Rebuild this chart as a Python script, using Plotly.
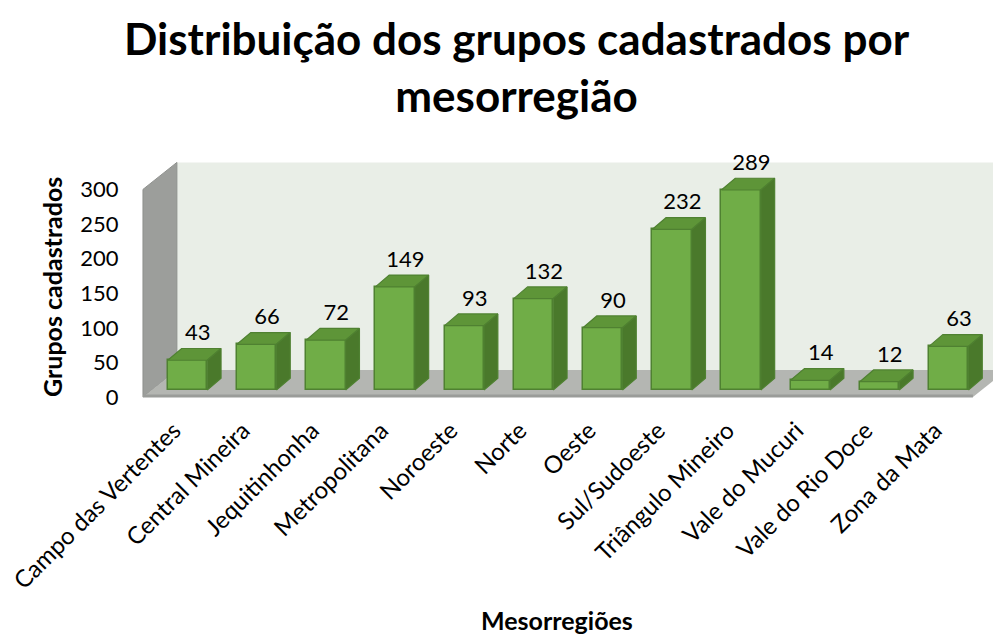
import plotly.graph_objects as go

# ---- data ----
categories = ["Campo das Vertentes", "Central Mineira", "Jequitinhonha", "Metropolitana",
              "Noroeste", "Norte", "Oeste", "Sul/Sudoeste", "Triângulo Mineiro",
              "Vale do Mucuri", "Vale do Rio Doce", "Zona da Mata"]
values = [43, 66, 72, 149, 93, 132, 90, 232, 289, 14, 12, 63]
y_ticks = [0, 50, 100, 150, 200, 250, 300]

title_text = "Distribuição dos grupos cadastrados por<br>mesorregião"
y_title = "Grupos cadastrados"
x_title = "Mesorregiões"

# ---- geometry / style ----
W, H = 993, 637
ML, MR, MT, MB = 140, 0, 150, 237
XR = [-0.686, 11.64]
YR = [-14.45, 346.8]
BAR_W = 0.57
DDX, DDY = 0.20, 17.0          # bar depth (x units, value units)
FDX, FDY = 0.49, 39.0          # full floor depth
FRONT_FRAC = 0.26              # bar plane position inside depth
OFF_X, OFF_Y = -FRONT_FRAC * FDX, -FRONT_FRAC * FDY   # front-plane offset
WALL_X = -0.643
WALL_TOP = max(y_ticks) + OFF_Y
FLOOR_RIGHT = 11.35

C_FRONT = "#70AD47"
C_TOP = "#5E9538"
C_SIDE = "#4A792B"
C_EDGE = "#4F8131"
FONT = "Lato"

n = len(values)
xs = list(range(n))

fig = go.Figure()

# front faces
fig.add_trace(go.Bar(x=xs, y=values, width=BAR_W, marker=dict(color=C_FRONT, line=dict(color=C_EDGE, width=1.5)),
                     hoverinfo="skip", showlegend=False))

# top faces & side faces
tx, ty, sx, sy = [], [], [], []
for i, v in zip(xs, values):
    l, r = i - BAR_W / 2, i + BAR_W / 2
    tx += [l, r, r + DDX, l + DDX, l, None]
    ty += [v, v, v + DDY, v + DDY, v, None]
    sx += [r, r + DDX, r + DDX, r, r, None]
    sy += [0, DDY, v + DDY, v, 0, None]
fig.add_trace(go.Scatter(x=tx, y=ty, fill="toself", fillcolor=C_TOP, mode="lines",
                         line=dict(color=C_EDGE, width=1.2), hoverinfo="skip", showlegend=False))
fig.add_trace(go.Scatter(x=sx, y=sy, fill="toself", fillcolor=C_SIDE, mode="lines",
                         line=dict(color=C_EDGE, width=1.2), hoverinfo="skip", showlegend=False))

# data labels
fig.add_trace(go.Scatter(x=[i + 0.15 for i in xs], y=[v + DDY + 4 for v in values], mode="text",
                         text=[str(v) for v in values], textposition="top center",
                         textfont=dict(family=FONT, size=22, color="#000000"),
                         hoverinfo="skip", showlegend=False, cliponaxis=False))

# walls and floor (chart frame)
fx0, fy0 = WALL_X, OFF_Y
bx0, by0 = WALL_X + FDX, OFF_Y + FDY
shapes = [
    dict(type="path", path=f"M{bx0},{by0} L{XR[1]+1},{by0} L{XR[1]+1},{WALL_TOP+FDY} L{bx0},{WALL_TOP+FDY} Z",
         fillcolor="#E9EEE7", line=dict(width=0), layer="below"),
    dict(type="path", path=f"M{fx0},{fy0} L{bx0},{by0} L{bx0},{WALL_TOP+FDY} L{fx0},{WALL_TOP} Z",
         fillcolor="#9C9E9B", line=dict(color="#8E908D", width=1), layer="below"),
    dict(type="path", path=f"M{fx0},{fy0} L{FLOOR_RIGHT},{fy0} L{FLOOR_RIGHT+FDX},{by0} L{bx0},{by0} Z",
         fillcolor="#B4B6B2", line=dict(width=0), layer="below"),
    dict(type="line", x0=fx0, x1=FLOOR_RIGHT, y0=fy0 + 1.5, y1=fy0 + 1.5,
         line=dict(color="#9A9C99", width=3), layer="below"),
]

def px_x(p):
    return (p - ML) / (W - ML - MR)

def px_y(p):
    return 1 - (p - MT) / (H - MT - MB)

annotations = [
    dict(text=f"<b>{title_text}</b>", xref="paper", yref="paper", x=px_x(517), y=px_y(67),
         xanchor="center", yanchor="middle", showarrow=False,
         font=dict(family=FONT, size=44, color="#000000")),
    dict(text=f"<b>{y_title}</b>", xref="paper", yref="paper", x=px_x(52), y=px_y(287),
         xanchor="center", yanchor="middle", textangle=-90, showarrow=False,
         font=dict(family=FONT, size=25, color="#000000")),
    dict(text=f"<b>{x_title}</b>", xref="paper", yref="paper", x=px_x(557), y=px_y(620),
         xanchor="center", yanchor="middle", showarrow=False,
         font=dict(family=FONT, size=25, color="#000000")),
]

fig.update_layout(
    width=W, height=H, margin=dict(l=ML, r=MR, t=MT, b=MB),
    paper_bgcolor="#FFFFFF", plot_bgcolor="rgba(0,0,0,0)",
    shapes=shapes, annotations=annotations, bargap=0,
    xaxis=dict(range=XR, tickmode="array", tickvals=[i + OFF_X - 0.07 for i in xs], ticktext=categories,
               tickangle=-45, showgrid=False, zeroline=False, showline=False,
               ticks="outside", ticklen=6, tickcolor="rgba(0,0,0,0)",
               tickfont=dict(family=FONT, size=24, color="#000000")),
    yaxis=dict(range=YR, tickmode="array", tickvals=[t + OFF_Y for t in y_ticks],
               ticktext=[str(t) for t in y_ticks], showgrid=False, zeroline=False, showline=False,
               ticks="outside", ticklen=16, tickcolor="rgba(0,0,0,0)",
               tickfont=dict(family=FONT, size=22, color="#000000")),
)

fig.write_html("out.html", config={"displayModeBar": False},
               post_script="document.body.style.margin='0';document.body.style.overflow='hidden';")
